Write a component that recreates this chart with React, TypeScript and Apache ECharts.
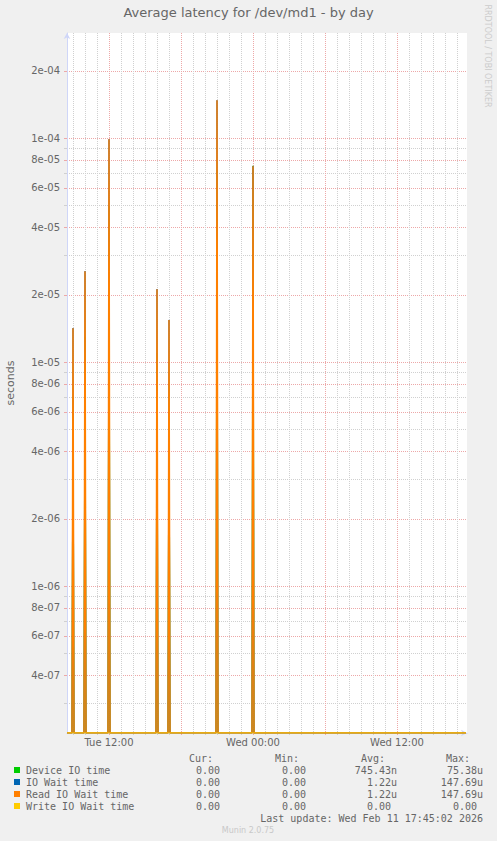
import * as echarts from "echarts"
import { useEffect, useRef } from "react"

// Munin "diskstats latency" day graph for /dev/md1, redrawn with ECharts.
// x = minutes since Tue 00:00 (5-minute samples), y = seconds on a log10 scale.
const TITLE = "Average latency for /dev/md1 - by day"

const X_MIN = 510 // Tue 08:30
const X_MAX = 2510 // Wed 17:50
const Y_MIN = 2.213e-7
const Y_MAX = 2.951e-4

const sampleMinutes = [
  510, 535, 540, 545, 595, 600, 605, 715, 720, 725, 955, 960, 965, 1015, 1020, 1025, 1255, 1260, 1265,
  1435, 1440, 1445, 2505,
]
const deviceIO = [
  0, 0, 7.0e-6, 0, 0, 1.3e-5, 0, 0, 5.0e-5, 0, 0, 1.1e-5, 0, 0, 8.0e-6, 0, 0, 7.2e-5, 0, 0, 7.538e-5, 0, 0,
]
const ioWait = [
  0, 0, 1.42e-5, 0, 0, 2.55e-5, 0, 0, 9.9e-5, 0, 0, 2.12e-5, 0, 0, 1.545e-5, 0, 0, 1.4769e-4, 0, 0, 7.5e-5, 0, 0,
]
const readIOWait = [
  0, 0, 1.42e-5, 0, 0, 2.55e-5, 0, 0, 9.9e-5, 0, 0, 2.12e-5, 0, 0, 1.545e-5, 0, 0, 1.4769e-4, 0, 0, 7.5e-5, 0, 0,
]
const writeIOWait = [0, 0, 0, 0, 0, 0, 0, 0, 0, 0, 0, 0, 0, 0, 0, 0, 0, 0, 0, 0, 0, 0, 0]

const seriesNames = ["Device IO time", "IO Wait time", "Read IO Wait time", "Write IO Wait time"]
const seriesColors = ["#00cc00", "#0066b3", "#ff8000", "#ffcc00"]
const seriesWidths = [1.2, 1, 1.5, 1]
const seriesValues = [deviceIO, ioWait, readIOWait, writeIOWait]

const curValues = ["0.00", "0.00", "0.00", "0.00"]
const minValues = ["0.00", "0.00", "0.00", "0.00"]
const avgValues = ["745.43n", "1.22u", "1.22u", "0.00 "]
const maxValues = ["75.38u", "147.69u", "147.69u", "0.00 "]
const LAST_UPDATE = "Last update: Wed Feb 11 17:45:02 2026"

const majorTicks = [4e-7, 6e-7, 8e-7, 1e-6, 2e-6, 4e-6, 6e-6, 8e-6, 1e-5, 2e-5, 4e-5, 6e-5, 8e-5, 1e-4, 2e-4]
const minorTicks = [3e-7, 5e-7, 7e-7, 9e-7, 3e-6, 5e-6, 7e-6, 9e-6, 3e-5, 5e-5, 7e-5, 9e-5]

const sixHourTicks = [720, 1080, 1440, 1800, 2160]
const hourTicks: number[] = []
for (let m = 540; m < X_MAX; m += 60) if (!sixHourTicks.includes(m)) hourTicks.push(m)
const dayLabelTicks = [720, 1440, 2160]
const dayLabels = ["Tue 12:00", "Wed 00:00", "Wed 12:00"]

const FONT = "DejaVu Sans"
const MONO = "DejaVu Sans Mono"
const TEXT = "#666666"
const AXIS = "#cfd6f8"
const GRID = "#d0d0d0"
const MGRID = "#eda8a8"

const lo = Math.log10(Y_MIN)
const hi = Math.log10(Y_MAX)
// rrdtool clamps zero to the bottom of a log graph
const toLog = (v: number) => (v > 0 ? Math.log10(v) : lo)

const fmtExp = (l: number) => {
  const e = Math.floor(l + 1e-9)
  const m = Math.round(Math.pow(10, l - e))
  return `${m}e-${String(-e).padStart(2, "0")}`
}

const monoText = (x: number, y: number, text: string, align: "left" | "right") => ({
  type: "text",
  x,
  y,
  silent: true,
  style: { text, fill: TEXT, font: `10px "${MONO}"`, textAlign: align, textVerticalAlign: "middle" },
})

export default function App() {
  const ref = useRef<HTMLDivElement>(null)

  useEffect(() => {
    if (!ref.current) return
    document.body.style.margin = "0"
    document.body.style.background = "#f0f0f0"
    const chart = echarts.init(ref.current, null, { renderer: "svg" })

    const legendRows = seriesNames.flatMap((name, i) => {
      const y = 770 + i * 12
      return [
        { type: "rect", shape: { x: 14, y: y - 3, width: 6, height: 6 }, style: { fill: seriesColors[i] } },
        monoText(26, y, name, "left"),
        monoText(220, y, curValues[i], "right"),
        monoText(306, y, minValues[i], "right"),
        monoText(397, y, avgValues[i], "right"),
        monoText(483, y, maxValues[i], "right"),
      ]
    })

    chart.setOption({
      animation: false,
      backgroundColor: "#f0f0f0",
      title: {
        text: TITLE,
        left: "center",
        top: 6,
        padding: 0,
        textStyle: { fontSize: 13, fontWeight: "normal", color: TEXT, fontFamily: FONT },
      },
      grid: {
        left: 67,
        top: 33,
        width: 400,
        height: 700,
        outerBoundsMode: "none",
        containLabel: false,
        show: true,
        backgroundColor: "#ffffff",
        borderWidth: 0,
      },
      xAxis: [
        {
          type: "value",
          min: X_MIN,
          max: X_MAX,
          position: "bottom",
          axisLine: { show: true, lineStyle: { color: AXIS }, symbol: ["none", "arrow"], symbolSize: [5, 6] },
          axisTick: { show: true, customValues: hourTicks, length: 2, lineStyle: { color: GRID } },
          axisLabel: { show: false },
          splitLine: { show: true, lineStyle: { color: GRID, type: [1, 1] } },
        },
        {
          type: "value",
          min: X_MIN,
          max: X_MAX,
          position: "bottom",
          axisLine: { show: false },
          axisTick: { show: true, customValues: sixHourTicks, length: 2, lineStyle: { color: MGRID } },
          axisLabel: {
            customValues: dayLabelTicks,
            formatter: (v: number) => dayLabels[dayLabelTicks.indexOf(v)] ?? "",
            color: TEXT,
            fontSize: 10,
            fontFamily: FONT,
            margin: 4,
          },
          splitLine: { show: true, lineStyle: { color: MGRID, type: [1, 1] } },
        },
      ],
      yAxis: [
        {
          type: "value",
          min: lo,
          max: hi,
          position: "left",
          axisLine: { show: true, lineStyle: { color: AXIS }, symbol: ["none", "arrow"], symbolSize: [5, 6] },
          axisTick: { show: true, customValues: minorTicks.map(Math.log10), length: 3, lineStyle: { color: GRID } },
          axisLabel: { show: false },
          splitLine: { show: true, lineStyle: { color: GRID, type: [1, 1] } },
        },
        {
          type: "value",
          min: lo,
          max: hi,
          position: "left",
          name: "seconds",
          nameLocation: "middle",
          nameGap: 51,
          nameTextStyle: { fontSize: 11, color: TEXT, fontFamily: FONT },
          axisLine: { show: false },
          axisTick: { show: true, customValues: majorTicks.map(Math.log10), length: 3, lineStyle: { color: MGRID } },
          axisLabel: {
            customValues: majorTicks.map(Math.log10),
            formatter: (v: number) => fmtExp(v),
            color: TEXT,
            fontSize: 10,
            fontFamily: FONT,
            margin: 7,
          },
          splitLine: { show: true, lineStyle: { color: MGRID, type: [1, 1] } },
        },
      ],
      series: seriesNames.map((name, i) => ({
        name,
        type: "line",
        xAxisIndex: 0,
        yAxisIndex: 0,
        symbol: "none",
        data: sampleMinutes.map((m, j) => [m, toLog(seriesValues[i][j])]),
        lineStyle: { color: seriesColors[i], width: seriesWidths[i] },
        itemStyle: { color: seriesColors[i] },
      })),
      graphic: [
        {
          type: "text",
          x: 487.5,
          y: 56,
          rotation: -Math.PI / 2,
          silent: true,
          style: {
            text: "RRDTOOL / TOBI OETIKER",
            fill: "#cccccc",
            font: `8px "${FONT}"`,
            textAlign: "center",
            textVerticalAlign: "middle",
          },
        },
        monoText(213, 758, "Cur:", "right"),
        monoText(299, 758, "Min:", "right"),
        monoText(385, 758, "Avg:", "right"),
        monoText(470, 758, "Max:", "right"),
        ...legendRows,
        monoText(483, 818, LAST_UPDATE, "right"),
        {
          type: "text",
          x: 248,
          y: 830,
          silent: true,
          style: {
            text: "Munin 2.0.75",
            fill: "#c8c8c8",
            font: `8px "${FONT}"`,
            textAlign: "center",
            textVerticalAlign: "middle",
          },
        },
      ],
    })

    return () => chart.dispose()
  }, [])

  return <div ref={ref} style={{ width: 497, height: 841 }} />
}
